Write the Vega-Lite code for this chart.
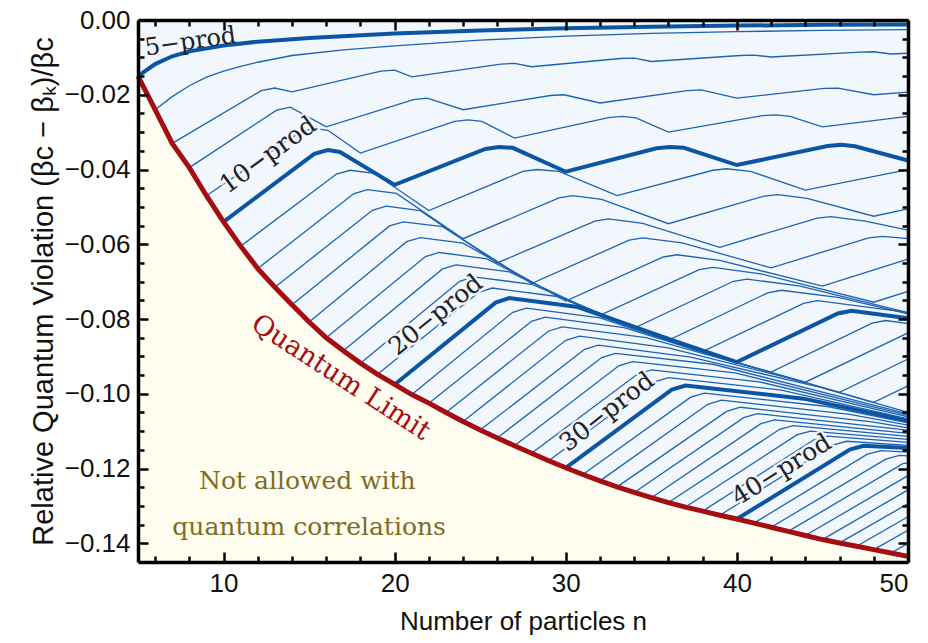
{
"$schema":"https://vega.github.io/schema/vega-lite/v6.json",
"width":770,"height":542,
"autosize":{"type":"none"},
"padding":{"left":138,"top":20,"right":20,"bottom":81},
"background":"white",
"datasets":{
"q":[{"n":5,"q":-0.015},{"n":6,"q":-0.024},{"n":7,"q":-0.033},{"n":8,"q":-0.0395},{"n":9,"q":-0.047},{"n":10,"q":-0.054},{"n":11,"q":-0.0605},{"n":12,"q":-0.0665},{"n":13,"q":-0.0715},{"n":14,"q":-0.0762},{"n":15,"q":-0.0808},{"n":16,"q":-0.085},{"n":17,"q":-0.0885},{"n":18,"q":-0.0918},{"n":19,"q":-0.0948},{"n":20,"q":-0.0975},{"n":21,"q":-0.1002},{"n":22,"q":-0.1025},{"n":23,"q":-0.105},{"n":24,"q":-0.1074},{"n":25,"q":-0.1097},{"n":26,"q":-0.1118},{"n":27,"q":-0.1139},{"n":28,"q":-0.1159},{"n":29,"q":-0.1179},{"n":30,"q":-0.1198},{"n":31,"q":-0.1216},{"n":32,"q":-0.1233},{"n":33,"q":-0.1249},{"n":34,"q":-0.1264},{"n":35,"q":-0.1278},{"n":36,"q":-0.1291},{"n":37,"q":-0.1303},{"n":38,"q":-0.1314},{"n":39,"q":-0.1325},{"n":40,"q":-0.1335},{"n":41,"q":-0.1346},{"n":42,"q":-0.1357},{"n":43,"q":-0.1368},{"n":44,"q":-0.1379},{"n":45,"q":-0.139},{"n":46,"q":-0.1399},{"n":47,"q":-0.1408},{"n":48,"q":-0.1417},{"n":49,"q":-0.1426},{"n":50,"q":-0.1435}],
"L":[
{"k":5,"n":5,"v":-0.015},{"k":5,"n":6,"v":-0.0118},{"k":5,"n":7,"v":-0.0097},{"k":5,"n":8,"v":-0.0084},{"k":5,"n":10,"v":-0.0068},{"k":5,"n":12,"v":-0.0058},{"k":5,"n":15,"v":-0.0048},{"k":5,"n":20,"v":-0.0036},{"k":5,"n":25,"v":-0.0028},{"k":5,"n":30,"v":-0.0022},{"k":5,"n":35,"v":-0.0018},{"k":5,"n":40,"v":-0.0015},{"k":5,"n":45,"v":-0.0013},{"k":5,"n":50,"v":-0.0012},
{"k":6,"n":6,"v":-0.024},{"k":6,"n":7,"v":-0.0205},{"k":6,"n":8,"v":-0.0176},{"k":6,"n":9,"v":-0.0153},{"k":6,"n":10,"v":-0.0137},{"k":6,"n":11,"v":-0.0124},{"k":6,"n":12,"v":-0.0113},{"k":6,"n":14,"v":-0.0095},{"k":6,"n":17,"v":-0.008},{"k":6,"n":20,"v":-0.0069},{"k":6,"n":25,"v":-0.0054},{"k":6,"n":30,"v":-0.0043},{"k":6,"n":35,"v":-0.0036},{"k":6,"n":40,"v":-0.0031},{"k":6,"n":45,"v":-0.0028},{"k":6,"n":50,"v":-0.0026},
{"k":7,"n":7,"v":-0.033},{"k":7,"n":12.2,"v":-0.0189},{"k":7,"n":13,"v":-0.0182},{"k":7,"n":14,"v":-0.0192},{"k":7,"n":19.2,"v":-0.0137},{"k":7,"n":20,"v":-0.0134},{"k":7,"n":21,"v":-0.0152},{"k":7,"n":26.2,"v":-0.0118},{"k":7,"n":27,"v":-0.0116},{"k":7,"n":28,"v":-0.0125},{"k":7,"n":33.2,"v":-0.0103},{"k":7,"n":34,"v":-0.0102},{"k":7,"n":35,"v":-0.0111},{"k":7,"n":40.2,"v":-0.0095},{"k":7,"n":41,"v":-0.0094},{"k":7,"n":42,"v":-0.0099},{"k":7,"n":47.2,"v":-0.0086},{"k":7,"n":48,"v":-0.0085},{"k":7,"n":49,"v":-0.0091},{"k":7,"n":50,"v":-0.0089},
{"k":8,"n":8,"v":-0.0395},{"k":8,"n":13.1,"v":-0.0241},{"k":8,"n":13.9,"v":-0.0233},{"k":8,"n":16,"v":-0.0286},{"k":8,"n":21.1,"v":-0.0213},{"k":8,"n":21.9,"v":-0.0209},{"k":8,"n":24,"v":-0.024},{"k":8,"n":29.1,"v":-0.0202},{"k":8,"n":29.9,"v":-0.02},{"k":8,"n":32,"v":-0.0222},{"k":8,"n":37.1,"v":-0.0189},{"k":8,"n":37.9,"v":-0.0187},{"k":8,"n":40,"v":-0.0209},{"k":8,"n":45.1,"v":-0.0183},{"k":8,"n":45.9,"v":-0.0182},{"k":8,"n":48,"v":-0.02},{"k":8,"n":50,"v":-0.0193},
{"k":9,"n":9,"v":-0.047},{"k":9,"n":14.5,"v":-0.0299},{"k":9,"n":15.3,"v":-0.029},{"k":9,"n":16.1,"v":-0.0295},{"k":9,"n":18,"v":-0.0356},{"k":9,"n":23.5,"v":-0.0271},{"k":9,"n":24.3,"v":-0.0267},{"k":9,"n":25.1,"v":-0.0271},{"k":9,"n":27,"v":-0.0316},{"k":9,"n":32.5,"v":-0.0261},{"k":9,"n":33.3,"v":-0.0258},{"k":9,"n":34.1,"v":-0.0262},{"k":9,"n":36,"v":-0.03},{"k":9,"n":41.5,"v":-0.0256},{"k":9,"n":42.3,"v":-0.0254},{"k":9,"n":43.1,"v":-0.0258},{"k":9,"n":45,"v":-0.0286},{"k":9,"n":50,"v":-0.0258},
{"k":10,"n":10,"v":-0.054},{"k":10,"n":15.3,"v":-0.0358},{"k":10,"n":16.1,"v":-0.0348},{"k":10,"n":16.8,"v":-0.0353},{"k":10,"n":20,"v":-0.0441},{"k":10,"n":25.3,"v":-0.0345},{"k":10,"n":26.1,"v":-0.034},{"k":10,"n":26.9,"v":-0.0342},{"k":10,"n":30,"v":-0.0406},{"k":10,"n":35.3,"v":-0.0343},{"k":10,"n":36.1,"v":-0.034},{"k":10,"n":36.9,"v":-0.0342},{"k":10,"n":40,"v":-0.0388},{"k":10,"n":45.3,"v":-0.0337},{"k":10,"n":46.1,"v":-0.0334},{"k":10,"n":46.9,"v":-0.0338},{"k":10,"n":50,"v":-0.0376},
{"k":11,"n":11,"v":-0.0605},{"k":11,"n":16.6,"v":-0.0412},{"k":11,"n":17.4,"v":-0.0402},{"k":11,"n":18.8,"v":-0.041},{"k":11,"n":22,"v":-0.051},{"k":11,"n":27.5,"v":-0.0405},{"k":11,"n":28.3,"v":-0.04},{"k":11,"n":29.6,"v":-0.0405},{"k":11,"n":33,"v":-0.047},{"k":11,"n":38.6,"v":-0.0402},{"k":11,"n":39.4,"v":-0.0398},{"k":11,"n":40.8,"v":-0.0405},{"k":11,"n":44,"v":-0.0455},{"k":11,"n":50,"v":-0.04},
{"k":12,"n":12,"v":-0.0665},{"k":12,"n":17.6,"v":-0.0465},{"k":12,"n":18.4,"v":-0.0454},{"k":12,"n":20.1,"v":-0.0464},{"k":12,"n":24,"v":-0.0585},{"k":12,"n":29.6,"v":-0.0476},{"k":12,"n":30.4,"v":-0.047},{"k":12,"n":32.1,"v":-0.048},{"k":12,"n":36,"v":-0.0545},{"k":12,"n":41.6,"v":-0.0471},{"k":12,"n":42.4,"v":-0.0467},{"k":12,"n":44.1,"v":-0.0477},{"k":12,"n":48,"v":-0.0525},{"k":12,"n":50,"v":-0.0505},
{"k":13,"n":13,"v":-0.0715},{"k":13,"n":18.7,"v":-0.0509},{"k":13,"n":19.5,"v":-0.0498},{"k":13,"n":21.5,"v":-0.051},{"k":13,"n":26,"v":-0.065},{"k":13,"n":31.7,"v":-0.0538},{"k":13,"n":32.5,"v":-0.0532},{"k":13,"n":34.5,"v":-0.0544},{"k":13,"n":39,"v":-0.0608},{"k":13,"n":44.7,"v":-0.053},{"k":13,"n":45.5,"v":-0.0526},{"k":13,"n":47.5,"v":-0.0538},{"k":13,"n":50,"v":-0.0562},
{"k":14,"n":14,"v":-0.0762},{"k":14,"n":19.7,"v":-0.0551},{"k":14,"n":20.5,"v":-0.054},{"k":14,"n":22.8,"v":-0.0553},{"k":14,"n":25.9,"v":-0.0643},{"k":14,"n":28,"v":-0.0705},{"k":14,"n":33.7,"v":-0.0589},{"k":14,"n":34.5,"v":-0.0583},{"k":14,"n":36.8,"v":-0.0596},{"k":14,"n":42,"v":-0.0663},{"k":14,"n":47.7,"v":-0.0583},{"k":14,"n":48.5,"v":-0.0579},{"k":14,"n":50,"v":-0.0585},
{"k":15,"n":15,"v":-0.0808},{"k":15,"n":20.7,"v":-0.0593},{"k":15,"n":21.5,"v":-0.0582},{"k":15,"n":24,"v":-0.0597},{"k":15,"n":27.6,"v":-0.069},{"k":15,"n":30,"v":-0.0752},{"k":15,"n":35.7,"v":-0.0634},{"k":15,"n":36.5,"v":-0.0628},{"k":15,"n":39,"v":-0.0643},{"k":15,"n":45,"v":-0.0712},{"k":15,"n":50,"v":-0.064},
{"k":16,"n":16,"v":-0.085},{"k":16,"n":21.8,"v":-0.0633},{"k":16,"n":22.6,"v":-0.0622},{"k":16,"n":25.4,"v":-0.0639},{"k":16,"n":29.4,"v":-0.0734},{"k":16,"n":32,"v":-0.079},{"k":16,"n":37.8,"v":-0.0668},{"k":16,"n":38.6,"v":-0.0662},{"k":16,"n":41.4,"v":-0.0679},{"k":16,"n":48,"v":-0.0755},{"k":16,"n":50,"v":-0.0726},
{"k":17,"n":17,"v":-0.0885},{"k":17,"n":22.8,"v":-0.0666},{"k":17,"n":23.6,"v":-0.0655},{"k":17,"n":26.7,"v":-0.0674},{"k":17,"n":31.1,"v":-0.0769},{"k":17,"n":34,"v":-0.0824},{"k":17,"n":39.8,"v":-0.0699},{"k":17,"n":40.6,"v":-0.0693},{"k":17,"n":43.7,"v":-0.0712},{"k":17,"n":50,"v":-0.0783},
{"k":18,"n":18,"v":-0.0918},{"k":18,"n":23.8,"v":-0.0699},{"k":18,"n":24.6,"v":-0.0687},{"k":18,"n":28,"v":-0.0707},{"k":18,"n":32.8,"v":-0.08},{"k":18,"n":36,"v":-0.0857},{"k":18,"n":41.8,"v":-0.073},{"k":18,"n":42.6,"v":-0.0723},{"k":18,"n":46,"v":-0.0743},{"k":18,"n":50,"v":-0.0786},
{"k":19,"n":19,"v":-0.0948},{"k":19,"n":24.9,"v":-0.0729},{"k":19,"n":25.7,"v":-0.0717},{"k":19,"n":29.4,"v":-0.0739},{"k":19,"n":34.6,"v":-0.083},{"k":19,"n":38,"v":-0.0887},{"k":19,"n":43.9,"v":-0.0758},{"k":19,"n":44.7,"v":-0.0751},{"k":19,"n":48.4,"v":-0.0773},{"k":19,"n":50,"v":-0.0782},
{"k":20,"n":20,"v":-0.0975},{"k":20,"n":25.9,"v":-0.0756},{"k":20,"n":26.7,"v":-0.0744},{"k":20,"n":30.7,"v":-0.0768},{"k":20,"n":36.3,"v":-0.0858},{"k":20,"n":40,"v":-0.0915},{"k":20,"n":45.9,"v":-0.0785},{"k":20,"n":46.7,"v":-0.0778},{"k":20,"n":50,"v":-0.0798},
{"k":21,"n":21,"v":-0.1002},{"k":21,"n":26.9,"v":-0.0782},{"k":21,"n":27.7,"v":-0.0771},{"k":21,"n":32,"v":-0.0797},{"k":21,"n":38,"v":-0.0889},{"k":21,"n":42,"v":-0.0942},{"k":21,"n":47.9,"v":-0.0811},{"k":21,"n":48.7,"v":-0.0804},{"k":21,"n":50,"v":-0.0812},
{"k":22,"n":22,"v":-0.1025},{"k":22,"n":28,"v":-0.0806},{"k":22,"n":28.8,"v":-0.0795},{"k":22,"n":33.4,"v":-0.0823},{"k":22,"n":39.8,"v":-0.0914},{"k":22,"n":44,"v":-0.0969},{"k":22,"n":50,"v":-0.0837},
{"k":23,"n":23,"v":-0.105},{"k":23,"n":29,"v":-0.0832},{"k":23,"n":29.8,"v":-0.0821},{"k":23,"n":34.7,"v":-0.085},{"k":23,"n":41.5,"v":-0.0937},{"k":23,"n":46,"v":-0.0996},{"k":23,"n":50,"v":-0.0907},
{"k":24,"n":24,"v":-0.1074},{"k":24,"n":30,"v":-0.0857},{"k":24,"n":30.8,"v":-0.0846},{"k":24,"n":36,"v":-0.0877},{"k":24,"n":43.2,"v":-0.096},{"k":24,"n":48,"v":-0.1023},{"k":24,"n":50,"v":-0.0979},
{"k":25,"n":25,"v":-0.1097},{"k":25,"n":31.1,"v":-0.0881},{"k":25,"n":31.9,"v":-0.087},{"k":25,"n":37.3,"v":-0.0902},{"k":25,"n":44.9,"v":-0.0983},{"k":25,"n":50,"v":-0.105},
{"k":26,"n":26,"v":-0.1118},{"k":26,"n":32.1,"v":-0.0903},{"k":26,"n":32.9,"v":-0.0892},{"k":26,"n":38.6,"v":-0.0921},{"k":26,"n":50,"v":-0.1054},
{"k":27,"n":27,"v":-0.1139},{"k":27,"n":33.1,"v":-0.0925},{"k":27,"n":33.9,"v":-0.0914},{"k":27,"n":39.9,"v":-0.0944},{"k":27,"n":50,"v":-0.1058},
{"k":28,"n":28,"v":-0.1159},{"k":28,"n":34.2,"v":-0.0947},{"k":28,"n":35,"v":-0.0936},{"k":28,"n":41.3,"v":-0.0968},{"k":28,"n":50,"v":-0.1062},
{"k":29,"n":29,"v":-0.1179},{"k":29,"n":35.2,"v":-0.0968},{"k":29,"n":36,"v":-0.0957},{"k":29,"n":42.6,"v":-0.099},{"k":29,"n":50,"v":-0.1067},
{"k":30,"n":30,"v":-0.1198},{"k":30,"n":36.2,"v":-0.0989},{"k":30,"n":37,"v":-0.0978},{"k":30,"n":43.9,"v":-0.1013},{"k":30,"n":50,"v":-0.1072},
{"k":31,"n":31,"v":-0.1216},{"k":31,"n":37.3,"v":-0.1009},{"k":31,"n":38.1,"v":-0.0998},{"k":31,"n":45.3,"v":-0.1034},{"k":31,"n":50,"v":-0.1078},
{"k":32,"n":32,"v":-0.1233},{"k":32,"n":38.3,"v":-0.1028},{"k":32,"n":39.1,"v":-0.1017},{"k":32,"n":46.6,"v":-0.1055},{"k":32,"n":50,"v":-0.1084},
{"k":33,"n":33,"v":-0.1249},{"k":33,"n":39.4,"v":-0.1047},{"k":33,"n":40.2,"v":-0.1036},{"k":33,"n":47.9,"v":-0.1075},{"k":33,"n":50,"v":-0.1091},
{"k":34,"n":34,"v":-0.1264},{"k":34,"n":40.4,"v":-0.1064},{"k":34,"n":41.2,"v":-0.1053},{"k":34,"n":49.2,"v":-0.1093},{"k":34,"n":50,"v":-0.1098},
{"k":35,"n":35,"v":-0.1278},{"k":35,"n":41.4,"v":-0.108},{"k":35,"n":42.2,"v":-0.107},{"k":35,"n":50,"v":-0.1106},
{"k":36,"n":36,"v":-0.1291},{"k":36,"n":42.5,"v":-0.1095},{"k":36,"n":43.3,"v":-0.1085},{"k":36,"n":50,"v":-0.1114},
{"k":37,"n":37,"v":-0.1303},{"k":37,"n":43.5,"v":-0.111},{"k":37,"n":44.3,"v":-0.11},{"k":37,"n":50,"v":-0.1122},
{"k":38,"n":38,"v":-0.1314},{"k":38,"n":44.5,"v":-0.1123},{"k":38,"n":45.3,"v":-0.1113},{"k":38,"n":50,"v":-0.113},
{"k":39,"n":39,"v":-0.1325},{"k":39,"n":45.6,"v":-0.1137},{"k":39,"n":46.4,"v":-0.1127},{"k":39,"n":50,"v":-0.1138},
{"k":40,"n":40,"v":-0.1335},{"k":40,"n":46.6,"v":-0.1149},{"k":40,"n":47.4,"v":-0.1139},{"k":40,"n":50,"v":-0.1145},
{"k":41,"n":41,"v":-0.1346},{"k":41,"n":47.6,"v":-0.1162},{"k":41,"n":48.4,"v":-0.1152},{"k":41,"n":50,"v":-0.1156},
{"k":42,"n":42,"v":-0.1357},{"k":42,"n":48.7,"v":-0.1175},{"k":42,"n":49.5,"v":-0.1165},{"k":42,"n":50,"v":-0.1166},
{"k":43,"n":43,"v":-0.1368},{"k":43,"n":49.7,"v":-0.1187},{"k":43,"n":50,"v":-0.1185},
{"k":44,"n":44,"v":-0.1379},{"k":44,"n":50,"v":-0.1219},
{"k":45,"n":45,"v":-0.139},{"k":45,"n":50,"v":-0.1257},
{"k":46,"n":46,"v":-0.1399},{"k":46,"n":50,"v":-0.1294},
{"k":47,"n":47,"v":-0.1408},{"k":47,"n":50,"v":-0.1329},
{"k":48,"n":48,"v":-0.1417},{"k":48,"n":50,"v":-0.1365},
{"k":49,"n":49,"v":-0.1426},{"k":49,"n":50,"v":-0.14}
]},
"layer":[
{"data":{"name":"q"},"mark":{"type":"area","color":"#f2f7fd"},
"encoding":{
"x":{"field":"n","type":"quantitative","scale":{"domain":[5,50],"nice":false,"zero":false},"axis":null},
"y":{"field":"q","type":"quantitative","scale":{"domain":[-0.145,0],"nice":false,"zero":false},"axis":null},
"y2":{"datum":0}}},
{"data":{"name":"q"},"mark":{"type":"area","color":"#fffdf0"},
"encoding":{
"x":{"field":"n","type":"quantitative","axis":null},
"y":{"field":"q","type":"quantitative","axis":null},
"y2":{"datum":-0.145}}},
{"data":{"name":"L"},"transform":[{"filter":"indexof([5,10,20,30,40], datum.k) < 0"}],
"mark":{"type":"line","color":"#1d63b0","strokeWidth":1.3},
"encoding":{"x":{"field":"n","type":"quantitative","axis":null},"y":{"field":"v","type":"quantitative","axis":null},"detail":{"field":"k","type":"nominal"}}},
{"data":{"name":"L"},"transform":[{"filter":"indexof([5,10,20,30,40], datum.k) >= 0"}],
"mark":{"type":"line","color":"#0b55a3","strokeWidth":4},
"encoding":{"x":{"field":"n","type":"quantitative","axis":null},"y":{"field":"v","type":"quantitative","axis":null},"detail":{"field":"k","type":"nominal"}}},
{"data":{"name":"q"},"mark":{"type":"line","color":"#a50d12","strokeWidth":5},
"encoding":{
"x":{"field":"n","type":"quantitative",
"axis":{"orient":"bottom","zindex":2,"values":[6,8,10,12,14,16,18,20,22,24,26,28,30,32,34,36,38,40,42,44,46,48,50],"format":"d","ticks":true,"tickColor":"#000","tickWidth":2.5,"tickSize":{"condition":{"test":"datum.value % 10 === 0","value":-10},"value":-6},"labelExpr":"datum.value % 10 === 0 ? datum.label : ''","labelPadding":18,"title":"Number of particles n","titlePadding":8,"titleFontSize":26}},
"y":{"field":"q","type":"quantitative",
"axis":{"orient":"left","zindex":2,"values":[-0.14,-0.135,-0.13,-0.125,-0.12,-0.115,-0.11,-0.105,-0.1,-0.095,-0.09,-0.085,-0.08,-0.075,-0.07,-0.065,-0.06,-0.055,-0.05,-0.045,-0.04,-0.035,-0.03,-0.025,-0.02,-0.015,-0.01,-0.005,0],"format":".2f","ticks":true,"tickColor":"#000","tickWidth":2.5,"tickSize":{"condition":{"test":"abs(round(datum.value*1000)) % 20 === 0","value":-10},"value":-6},"labelExpr":"abs(round(datum.value*1000)) % 20 === 0 ? datum.label : ''","labelPadding":18,"title":"Relative Quantum Violation (βc − βₖ)/βc","titlePadding":6,"titleFontSize":29}}}},
{"data":{"values":[{"n":8.07,"v":-0.0059,"t":"5−prod"}]},"mark":{"type":"text","angle":352,"font":"DejaVu Serif","fontSize":24,"color":"#222"},
"encoding":{
"x":{"field":"n","type":"quantitative","axis":{"orient":"top","zindex":2,"values":[6,8,10,12,14,16,18,20,22,24,26,28,30,32,34,36,38,40,42,44,46,48,50],"ticks":true,"tickColor":"#000","tickWidth":2.5,"tickSize":{"condition":{"test":"datum.value % 10 === 0","value":-10},"value":-6},"labels":false,"title":null}},
"y":{"field":"v","type":"quantitative","axis":{"orient":"right","zindex":2,"values":[-0.14,-0.135,-0.13,-0.125,-0.12,-0.115,-0.11,-0.105,-0.1,-0.095,-0.09,-0.085,-0.08,-0.075,-0.07,-0.065,-0.06,-0.055,-0.05,-0.045,-0.04,-0.035,-0.03,-0.025,-0.02,-0.015,-0.01,-0.005,0],"ticks":true,"tickColor":"#000","tickWidth":2.5,"tickSize":{"condition":{"test":"abs(round(datum.value*1000)) % 20 === 0","value":-10},"value":-6},"labels":false,"title":null}},
"text":{"field":"t"}}},
{"data":{"values":[{"n":12.6,"v":-0.0361,"t":"10−prod"}]},"mark":{"type":"text","angle":324,"font":"DejaVu Serif","fontSize":25,"color":"#222","stroke":"#f2f7fd","strokeWidth":5,"strokeOpacity":0.9},
"encoding":{"x":{"field":"n","type":"quantitative","axis":null},"y":{"field":"v","type":"quantitative","axis":null},"text":{"field":"t"}}},
{"data":{"values":[{"n":22.4,"v":-0.0789,"t":"20−prod"}]},"mark":{"type":"text","angle":321,"font":"DejaVu Serif","fontSize":25,"color":"#222","stroke":"#f2f7fd","strokeWidth":5,"strokeOpacity":0.9},
"encoding":{"x":{"field":"n","type":"quantitative","axis":null},"y":{"field":"v","type":"quantitative","axis":null},"text":{"field":"t"}}},
{"data":{"values":[{"n":32.4,"v":-0.1048,"t":"30−prod"}]},"mark":{"type":"text","angle":322,"font":"DejaVu Serif","fontSize":25,"color":"#222","stroke":"#f2f7fd","strokeWidth":5,"strokeOpacity":0.9},
"encoding":{"x":{"field":"n","type":"quantitative","axis":null},"y":{"field":"v","type":"quantitative","axis":null},"text":{"field":"t"}}},
{"data":{"values":[{"n":42.6,"v":-0.1203,"t":"40−prod"}]},"mark":{"type":"text","angle":328,"font":"DejaVu Serif","fontSize":25,"color":"#222","stroke":"#f2f7fd","strokeWidth":5,"strokeOpacity":0.9},
"encoding":{"x":{"field":"n","type":"quantitative","axis":null},"y":{"field":"v","type":"quantitative","axis":null},"text":{"field":"t"}}},
{"data":{"values":[{"n":12.6,"v":-0.0361,"t":"10−prod"}]},"mark":{"type":"text","angle":324,"font":"DejaVu Serif","fontSize":25,"color":"#222"},
"encoding":{"x":{"field":"n","type":"quantitative","axis":null},"y":{"field":"v","type":"quantitative","axis":null},"text":{"field":"t"}}},
{"data":{"values":[{"n":22.4,"v":-0.0789,"t":"20−prod"}]},"mark":{"type":"text","angle":321,"font":"DejaVu Serif","fontSize":25,"color":"#222"},
"encoding":{"x":{"field":"n","type":"quantitative","axis":null},"y":{"field":"v","type":"quantitative","axis":null},"text":{"field":"t"}}},
{"data":{"values":[{"n":32.4,"v":-0.1048,"t":"30−prod"}]},"mark":{"type":"text","angle":322,"font":"DejaVu Serif","fontSize":25,"color":"#222"},
"encoding":{"x":{"field":"n","type":"quantitative","axis":null},"y":{"field":"v","type":"quantitative","axis":null},"text":{"field":"t"}}},
{"data":{"values":[{"n":42.6,"v":-0.1203,"t":"40−prod"}]},"mark":{"type":"text","angle":328,"font":"DejaVu Serif","fontSize":25,"color":"#222"},
"encoding":{"x":{"field":"n","type":"quantitative","axis":null},"y":{"field":"v","type":"quantitative","axis":null},"text":{"field":"t"}}},
{"data":{"values":[{"n":16.84,"v":-0.0957,"t":"Quantum Limit"}]},"mark":{"type":"text","angle":33,"font":"DejaVu Serif","fontSize":27,"color":"#a50d12"},
"encoding":{"x":{"field":"n","type":"quantitative","axis":null},"y":{"field":"v","type":"quantitative","axis":null},"text":{"field":"t"}}},
{"data":{"values":[{"n":14.9,"v":-0.1233,"t":"Not allowed with"},{"n":15.0,"v":-0.1356,"t":"quantum correlations"}]},"mark":{"type":"text","font":"DejaVu Serif","fontSize":25,"color":"#7d6c22"},
"encoding":{"x":{"field":"n","type":"quantitative","axis":null},"y":{"field":"v","type":"quantitative","axis":null},"text":{"field":"t"}}}
],
"resolve":{"axis":{"x":"independent","y":"independent"}},
"config":{
"view":{"stroke":null},
"axis":{"zindex":2,"gridOpacity":0,"domainColor":"#000","domainWidth":3.5,"labelFont":"Liberation Sans","labelFontSize":26,"labelColor":"#111","labelOverlap":false,"titleFont":"Liberation Sans","titleFontWeight":"normal","titleColor":"#111"}
}
}
